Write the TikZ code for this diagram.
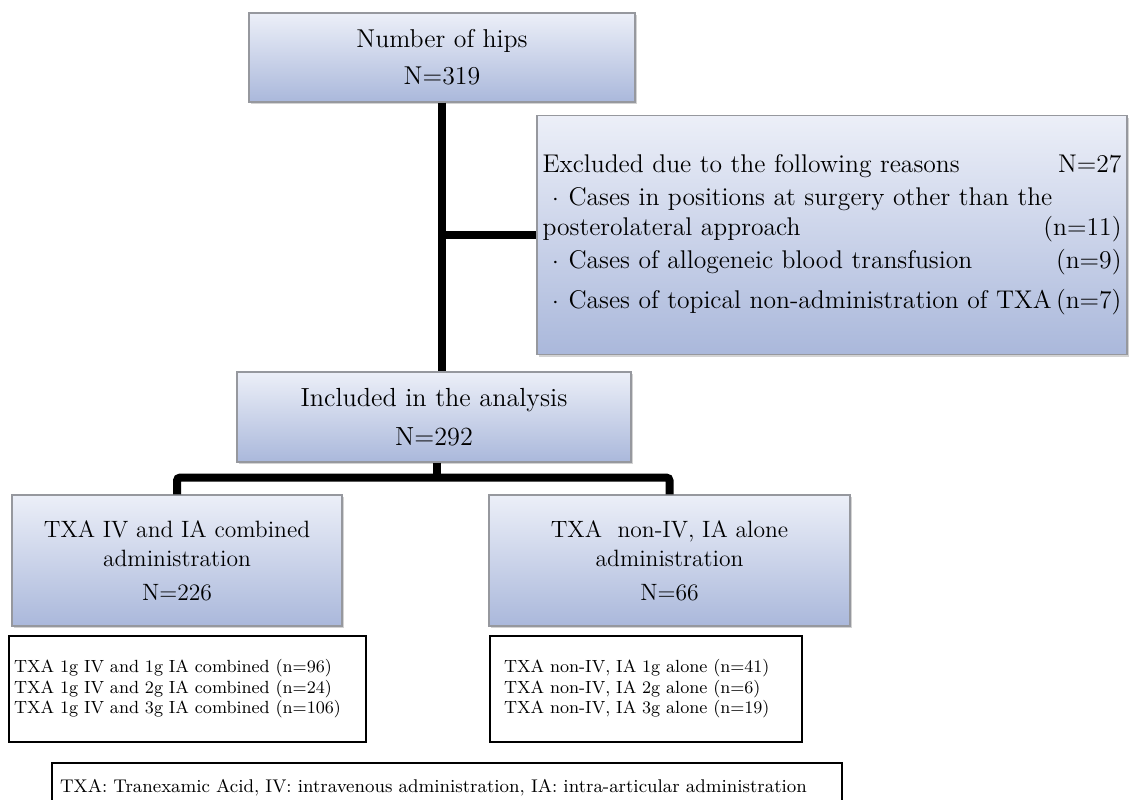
\documentclass[tikz,border=0pt]{standalone}
\usepackage{tikz}
\usetikzlibrary{positioning, calc, shadows}

\definecolor{boxtop}{RGB}{236,239,248}
\definecolor{boxbottom}{RGB}{170,184,219}
\definecolor{boxline}{RGB}{150,152,158}

\begin{document}
\begin{tikzpicture}[
    x=0.5pt, y=-0.5pt,
    stage/.style={rectangle, draw=boxline, line width=0.6pt, top color=boxtop, bottom color=boxbottom, drop shadow={shadow xshift=0.8pt, shadow yshift=-1.2pt, opacity=0.35}, align=center, inner sep=0pt},
    listbox/.style={rectangle, draw, line width=0.6pt, align=left, inner ysep=0pt, font=\fontsize{8.8}{10.25}\selectfont},
    link/.style={line width=4pt, rounded corners=1.5pt}
]

\useasboundingbox (0,0) rectangle (1129,799);

% Top of the flow
\node[stage, minimum width=193pt, minimum height=44.5pt, font=\fontsize{12.9}{18.5}\selectfont] (hips) at (442,57.5) {Number of hips\\N=319};

% Exclusions
\node[stage, minimum width=295pt, minimum height=119.5pt, inner xsep=2pt, text width=289.5pt, align=left, font=\fontsize{12.8}{16}\selectfont] (excl) at (832,235) {Excluded due to the following reasons\hfill N=27\\[0.5pt]
\makebox[13pt]{$\cdot$}Cases in positions at surgery other than the\\[-1pt]
posterolateral approach\hfill(n=11)\\[0.5pt]
\makebox[13pt]{$\cdot$}Cases of allogeneic blood transfusion\hfill(n=9)\\[4pt]
\makebox[13pt]{$\cdot$}Cases of topical non-administration of TXA\hfill(n=7)};

% Analysed hips
\node[stage, minimum width=197pt, minimum height=45pt, font=\fontsize{13.1}{19.5}\selectfont] (incl) at (434,417) {Included in the analysis\\N=292};

% Groups
\node[stage, minimum width=165pt, minimum height=65.5pt, font=\fontsize{11.8}{14.5}\selectfont] (combo) at (177,560.5) {TXA IV and IA combined\\administration\\[2.5pt]N=226};
\node[stage, minimum width=180.5pt, minimum height=65.5pt, font=\fontsize{11.8}{14.5}\selectfont] (alone) at (669.5,560.5) {TXA\ \ non-IV, IA alone\\administration\\[2.5pt]N=66};

% Doses per group
\node[listbox, minimum width=178.5pt, minimum height=53pt, inner xsep=2.5pt, text width=173.5pt] (combolist) at (187.5,689) {TXA 1g IV and 1g IA combined (n=96)\\
TXA 1g IV and 2g IA combined (n=24)\\
TXA 1g IV and 3g IA combined (n=106)};
\node[listbox, minimum width=156pt, minimum height=53pt, inner xsep=7pt, text width=142pt] (alonelist) at (646,689) {TXA non-IV, IA 1g alone (n=41)\\
TXA non-IV, IA 2g alone (n=6)\\
TXA non-IV, IA 3g alone (n=19)};

% Abbreviations
\node[listbox, minimum width=395pt, minimum height=25pt, inner xsep=4pt, text width=387pt, font=\fontsize{9.2}{11}\selectfont] (note) at (447,788) {TXA: Tranexamic Acid, IV: intravenous administration, IA: intra-articular administration};

% Connectors
\coordinate (split) at ($(incl.south)+(3,15)$);
\draw[link] (hips.south) -- (hips.south |- incl.north);
\draw[link] (hips.south |- excl.west) -- (excl.west);
\draw[link] (incl.south -| split) -- (split);
\draw[link] (combo.north) |- (split) -| (alone.north);

\end{tikzpicture}
\end{document}
